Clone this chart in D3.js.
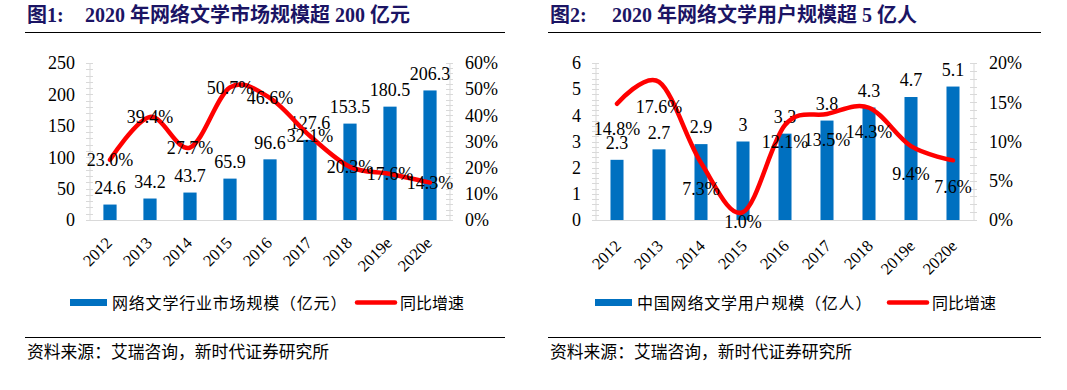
<!DOCTYPE html>
<html><head><meta charset="utf-8">
<script src="https://cdn.jsdelivr.net/npm/d3@7"></script>
<style>
html,body{margin:0;padding:0;background:#fff;}
svg{display:block;}
</style></head>
<body>
<svg id="c" width="1067" height="390"></svg>
<script>
// ---------- data ----------
const years = ["2012","2013","2014","2015","2016","2017","2018","2019e","2020e"];
const marketSize = [24.6, 34.2, 43.7, 65.9, 96.6, 127.6, 153.5, 180.5, 206.3];
const marketGrowth = [23.0, 39.4, 27.7, 50.7, 46.6, 32.1, 20.3, 17.6, 14.3];
const users = [2.3, 2.7, 2.9, 3, 3.3, 3.8, 4.3, 4.7, 5.1];
const userGrowth = [14.8, 17.6, 7.3, 1.0, 12.1, 13.5, 14.3, 9.4, 7.6];
const marketTicks = [0, 50, 100, 150, 200, 250];
const marketPctTicks = [0, 10, 20, 30, 40, 50, 60];
const userTicks = [0, 1, 2, 3, 4, 5, 6];
const userPctTicks = [0, 5, 10, 15, 20];
// label offsets (px) of growth labels relative to their points
const marketGrowthLabelDy = [0, 0, 0, 0, 0, 0, 0, 0, 0];
const userGrowthLabelDy = [25, 25, 26, 10, 17, 26, 24, 27, 26];

const svg = d3.select("#c");
const SERIF = "'Liberation Serif','Times New Roman',serif";
const CJK = "'Noto Sans CJK SC','Noto Sans',sans-serif";
const BLUE = "#0070C0", RED = "#FF0000", AXIS = "#D9D9D9", NAVY = "#1B1464";

function chart(o) {
  const g = svg.append("g");
  const x = d3.scaleBand().domain(years).range([o.x0, o.x1]).paddingInner(o.pad).paddingOuter(o.pad / 2);
  const yL = d3.scaleLinear().domain([0, d3.max(o.lTicks)]).range([220, 63]);
  const yR = d3.scaleLinear().domain([0, d3.max(o.rTicks)]).range([220, 63]);
  const cx = d => x(d) + x.bandwidth() / 2;

  // left axis with minor ticks
  const lMinor = d3.range(0, d3.max(o.lTicks) + 1e-9, o.lTicks[1] / 5);
  g.append("line").attr("x1", o.x0).attr("x2", o.x0).attr("y1", 63).attr("y2", 220).attr("stroke", AXIS);
  g.selectAll(".lm").data(lMinor).join("line")
    .attr("x1", o.x0 - 4).attr("x2", o.x0 + 3).attr("y1", d => Math.round(yL(d)) + 0.5).attr("y2", d => Math.round(yL(d)) + 0.5)
    .attr("stroke", AXIS);
  g.selectAll(".lt").data(o.lTicks).join("text")
    .attr("x", o.x0 - 15).attr("y", d => yL(d)).attr("dy", "0.35em").attr("text-anchor", "end")
    .attr("font-family", SERIF).attr("font-size", 18).text(d => d);

  // right axis
  const rMinor = d3.range(0, d3.max(o.rTicks) + 1e-9, o.rTicks[1] / 5);
  g.append("line").attr("x1", o.x1).attr("x2", o.x1).attr("y1", 63).attr("y2", 220).attr("stroke", AXIS);
  g.selectAll(".rm").data(rMinor).join("line")
    .attr("x1", o.x1 - 4).attr("x2", o.x1 + 3).attr("y1", d => Math.round(yR(d)) + 0.5).attr("y2", d => Math.round(yR(d)) + 0.5)
    .attr("stroke", AXIS);
  g.selectAll(".rt").data(o.rTicks).join("text")
    .attr("x", o.x1 + 15).attr("y", d => yR(d)).attr("dy", "0.35em").attr("text-anchor", "start")
    .attr("font-family", SERIF).attr("font-size", 18).text(d => d + "%");

  // bottom axis
  g.append("line").attr("x1", o.x0).attr("x2", o.x1).attr("y1", 220.5).attr("y2", 220.5).attr("stroke", AXIS);
  g.selectAll(".xt").data(years).join("text")
    .attr("transform", d => `translate(${cx(d) + o.xlDx},${o.xlY}) rotate(-45)`)
    .attr("text-anchor", "end").attr("font-family", SERIF).attr("font-size", 16.5).text(d => d);

  // bars
  g.selectAll(".bar").data(o.bars).join("rect")
    .attr("x", (d, i) => x(years[i])).attr("width", x.bandwidth())
    .attr("y", d => yL(d)).attr("height", d => 220 - yL(d)).attr("fill", BLUE);
  g.selectAll(".bl").data(o.bars).join("text")
    .attr("x", (d, i) => cx(years[i])).attr("y", d => yL(d) - 17).attr("dy", "0.35em")
    .attr("text-anchor", "middle").attr("font-family", SERIF).attr("font-size", 18).text(d => d);

  // line
  const line = d3.line().x((d, i) => cx(years[i])).y(d => yR(d)).curve(d3.curveCatmullRom.alpha(0));
  g.append("path").datum(o.line).attr("d", line).attr("fill", "none").attr("stroke", RED)
    .attr("stroke-width", 4.5).attr("stroke-linecap", "round").attr("stroke-linejoin", "round");
  g.selectAll(".ll").data(o.line).join("text")
    .attr("x", (d, i) => cx(years[i])).attr("y", (d, i) => yR(d) + o.lineDy[i]).attr("dy", "0.35em")
    .attr("text-anchor", "middle").attr("font-family", SERIF).attr("font-size", 18).text(d => d.toFixed(1) + "%");

  // title
  g.append("text").attr("x", o.tx).attr("y", 22).attr("font-family", SERIF + "," + CJK).attr("font-weight", "bold")
    .attr("font-size", 20).attr("fill", NAVY).text(o.fig);
  g.append("text").attr("x", o.tx2).attr("y", 22).attr("font-family", SERIF + "," + CJK).attr("font-weight", "bold")
    .attr("font-size", 20).attr("fill", NAVY).text(o.title);
  g.append("line").attr("x1", o.lx0).attr("x2", o.lx1).attr("y1", 32.5).attr("y2", 32.5).attr("stroke", "#000").attr("stroke-width", 1.2);

  // legend
  g.append("rect").attr("x", o.leg[0]).attr("y", 299).attr("width", 37).attr("height", 7).attr("fill", BLUE);
  g.append("text").attr("x", o.leg[0] + 42).attr("y", 303).attr("dy", "0.36em").attr("font-family", CJK)
    .attr("font-size", 16).attr("letter-spacing", 0.8).text(o.legBar);
  g.append("line").attr("x1", o.leg[1]).attr("x2", o.leg[1] + 38).attr("y1", 302.5).attr("y2", 302.5)
    .attr("stroke", RED).attr("stroke-width", 4.5).attr("stroke-linecap", "round");
  g.append("text").attr("x", o.leg[1] + 43).attr("y", 303).attr("dy", "0.36em").attr("font-family", CJK)
    .attr("font-size", 16).text("同比增速");

  // source
  g.append("line").attr("x1", o.lx0).attr("x2", o.lx1).attr("y1", 337.5).attr("y2", 337.5).attr("stroke", "#000").attr("stroke-width", 1.2);
  g.append("text").attr("x", o.tx).attr("y", 352).attr("dy", "0.36em").attr("font-family", CJK)
    .attr("font-size", 16.8).text("资料来源：艾瑞咨询，新时代证券研究所");
}

chart({x0: 90, x1: 450, pad: 0.67, lTicks: marketTicks, rTicks: marketPctTicks,
  bars: marketSize, line: marketGrowth, lineDy: marketGrowthLabelDy, xlDx: 3, xlY: 244,
  tx: 27, tx2: 85, fig: "图1:", title: "2020 年网络文学市场规模超 200 亿元", lx0: 25, lx1: 505,
  leg: [70, 357], legBar: "网络文学行业市场规模（亿元）"});
chart({x0: 596, x1: 974, pad: 0.69, lTicks: userTicks, rTicks: userPctTicks,
  bars: users, line: userGrowth, lineDy: userGrowthLabelDy, xlDx: 5, xlY: 247,
  tx: 550, tx2: 612, fig: "图2:", title: "2020 年网络文学用户规模超 5 亿人", lx0: 548, lx1: 1041,
  leg: [595, 889], legBar: "中国网络文学用户规模（亿人）"});
</script>
</body></html>
